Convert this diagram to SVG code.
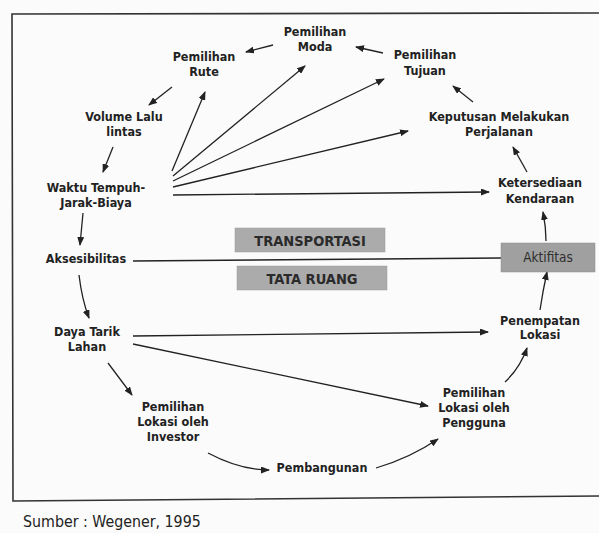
<svg xmlns="http://www.w3.org/2000/svg" width="599" height="533" viewBox="0 0 599 533">
<defs>
<marker id="ah" markerUnits="userSpaceOnUse" markerWidth="9" markerHeight="7" refX="8" refY="3.5" orient="auto">
<path d="M0,0 L9,3.5 L0,7 z" fill="#222"/>
</marker>
<style>
.n{font-family:"DejaVu Sans Condensed","DejaVu Sans",sans-serif;font-weight:bold;font-size:12.5px;fill:#222;text-anchor:middle}
.c{fill:none;stroke:#222;stroke-width:1.3;marker-end:url(#ah)}
.l{fill:none;stroke:#222;stroke-width:1.3}
.box{fill:#ababab;stroke:#9a9a9a;stroke-width:0.5}
.bt{font-family:"DejaVu Sans Condensed","DejaVu Sans",sans-serif;font-weight:bold;font-size:14.5px;fill:#2a2a2a;text-anchor:middle}
</style>
</defs>
<rect x="0" y="0" width="599" height="533" fill="#fbfbfb"/>
<path d="M599,13 L12,14 L13,501 L599,496" fill="none" stroke="#333" stroke-width="1.6"/>

<g id="connectors">
<path class="c" d="M273,45 L246,52"/>
<path class="c" d="M383,53 L356,47"/>
<path class="c" d="M172,87 L149,105"/>
<path class="c" d="M113,147 L103,172"/>
<path class="c" d="M172,171 L205,92"/>
<path class="c" d="M173,176 L305,66"/>
<path class="c" d="M173,181 L384,79"/>
<path class="c" d="M173,187 L408,131"/>
<path class="c" d="M173,195 L489,192"/>
<path class="c" d="M473,102 L453,86"/>
<path class="c" d="M527,172 L513,147"/>
<path class="c" d="M546,241 Q546,227 543,212"/>
<path class="c" d="M540,310 Q543,290 547,272"/>
<path class="c" d="M505,382 Q520,368 527,348"/>
<path class="c" d="M83,213 L80,245"/>
<path class="c" d="M79,275 Q82,300 89,318"/>
<path class="c" d="M133,336 L488,332"/>
<path class="c" d="M133,344 L428,406"/>
<path class="c" d="M108,363 L132,395"/>
<path class="c" d="M208,453 Q240,470 269,470"/>
<path class="c" d="M376,468 Q410,458 438,439"/>
<path class="l" d="M133,261 L501,258"/>
</g>

<g id="moda"><text class="n" x="315" y="36">Pemilihan</text><text class="n" x="315" y="51">Moda</text></g>
<g id="rute"><text class="n" x="204" y="61">Pemilihan</text><text class="n" x="204" y="76">Rute</text></g>
<g id="tujuan"><text class="n" x="425" y="59">Pemilihan</text><text class="n" x="425" y="75">Tujuan</text></g>
<g id="volume"><text class="n" x="124" y="121">Volume Lalu</text><text class="n" x="124" y="136">lintas</text></g>
<g id="waktu"><text class="n" x="96" y="192">Waktu Tempuh-</text><text class="n" x="96" y="207">Jarak-Biaya</text></g>
<g id="keputusan"><text class="n" x="499" y="121">Keputusan Melakukan</text><text class="n" x="499" y="136">Perjalanan</text></g>
<g id="ketersediaan"><text class="n" x="540" y="187">Ketersediaan</text><text class="n" x="540" y="203">Kendaraan</text></g>
<g id="aksesibilitas"><text class="n" x="86" y="263">Aksesibilitas</text></g>
<g id="daya"><text class="n" x="87" y="336">Daya Tarik</text><text class="n" x="87" y="351">Lahan</text></g>
<g id="penempatan"><text class="n" x="540" y="325">Penempatan</text><text class="n" x="540" y="339">Lokasi</text></g>
<g id="pengguna"><text class="n" x="474" y="397">Pemilihan</text><text class="n" x="474" y="412">Lokasi oleh</text><text class="n" x="474" y="427">Pengguna</text></g>
<g id="investor"><text class="n" x="173" y="411">Pemilihan</text><text class="n" x="173" y="426">Lokasi oleh</text><text class="n" x="173" y="441">Investor</text></g>
<g id="pembangunan"><text class="n" x="322" y="472">Pembangunan</text></g>

<g id="transportasi"><rect class="box" x="235" y="228" width="150" height="24"/><text class="bt" x="310" y="245.5">TRANSPORTASI</text></g>
<g id="tataruang"><rect class="box" x="237" y="266" width="150" height="24"/><text class="bt" x="312" y="283.5">TATA RUANG</text></g>
<g id="aktifitas"><rect x="501" y="243" width="94" height="29" fill="#a0a0a0" stroke="#8a8a8a" stroke-width="0.5"/><text x="548" y="262" font-family="DejaVu Sans Condensed, DejaVu Sans, sans-serif" font-size="13.5" fill="#2e2e2e" text-anchor="middle">Aktifitas</text></g>

<text x="23" y="527" font-family="DejaVu Sans Condensed, DejaVu Sans, sans-serif" font-size="15.8" fill="#222">Sumber : Wegener, 1995</text>
</svg>
